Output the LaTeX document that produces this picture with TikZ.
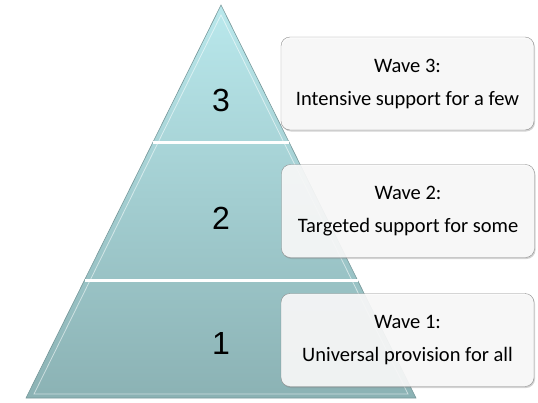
\documentclass[tikz,border=0pt]{standalone}
\usepackage{fontspec}
\setmainfont{Carlito}
\newfontfamily\numfont{Liberation Sans}
\usetikzlibrary{positioning, calc, shadows}

\definecolor{tritop}{HTML}{B9E8EC}
\definecolor{tribot}{HTML}{8BB2B4}
\definecolor{boxline}{HTML}{8C8C8C}

\begin{document}
\begin{tikzpicture}[x=1pt, y=-1pt,
  wave/.style={draw=boxline, rounded corners=9pt, fill=gray!3, fill opacity=0.9, text opacity=1,
    minimum width=253pt, minimum height=93pt, align=center, font=\fontsize{20.5}{33}\selectfont,
    drop shadow={shadow xshift=1pt, shadow yshift=-1.5pt, opacity=0.35}},
  level/.style={font=\numfont\fontsize{32}{32}\selectfont}]

\useasboundingbox (0,0) rectangle (538,402);

% Define pyramid
\coordinate (apex) at (221,5);
\coordinate (baseL) at (26,398);
\coordinate (baseR) at (416,398);
\shade[top color=tritop, bottom color=tribot] (apex) -- (baseR) -- (baseL) -- cycle;
\draw[tribot!85!black, line width=0.6pt] (apex) -- (baseR) -- (baseL) -- cycle;
\draw[white, opacity=0.55, line width=0.8pt] (221,15) -- (408,394) -- (34,394) -- cycle;

% Separators between levels
\draw[white, line width=3pt] ($(apex)!0.349!(baseL)$) -- ($(apex)!0.349!(baseR)$);
\draw[white, line width=3pt] ($(apex)!0.700!(baseL)$) -- ($(apex)!0.700!(baseR)$);

% Level numbers
\node[level] (n3) at (221,100) {3};
\node[level] (n2) at (221,218) {2};
\node[level] (n1) at (221,343) {1};

% Wave boxes
\node[wave] (w3) at (407.5,83.5) {Wave 3:\\Intensive support for a few};
\node[wave] (w2) at (408,211) {Wave 2:\\Targeted support for some};
\node[wave] (w1) at (407.5,340) {Wave 1:\\Universal provision for all};

\end{tikzpicture}
\end{document}
